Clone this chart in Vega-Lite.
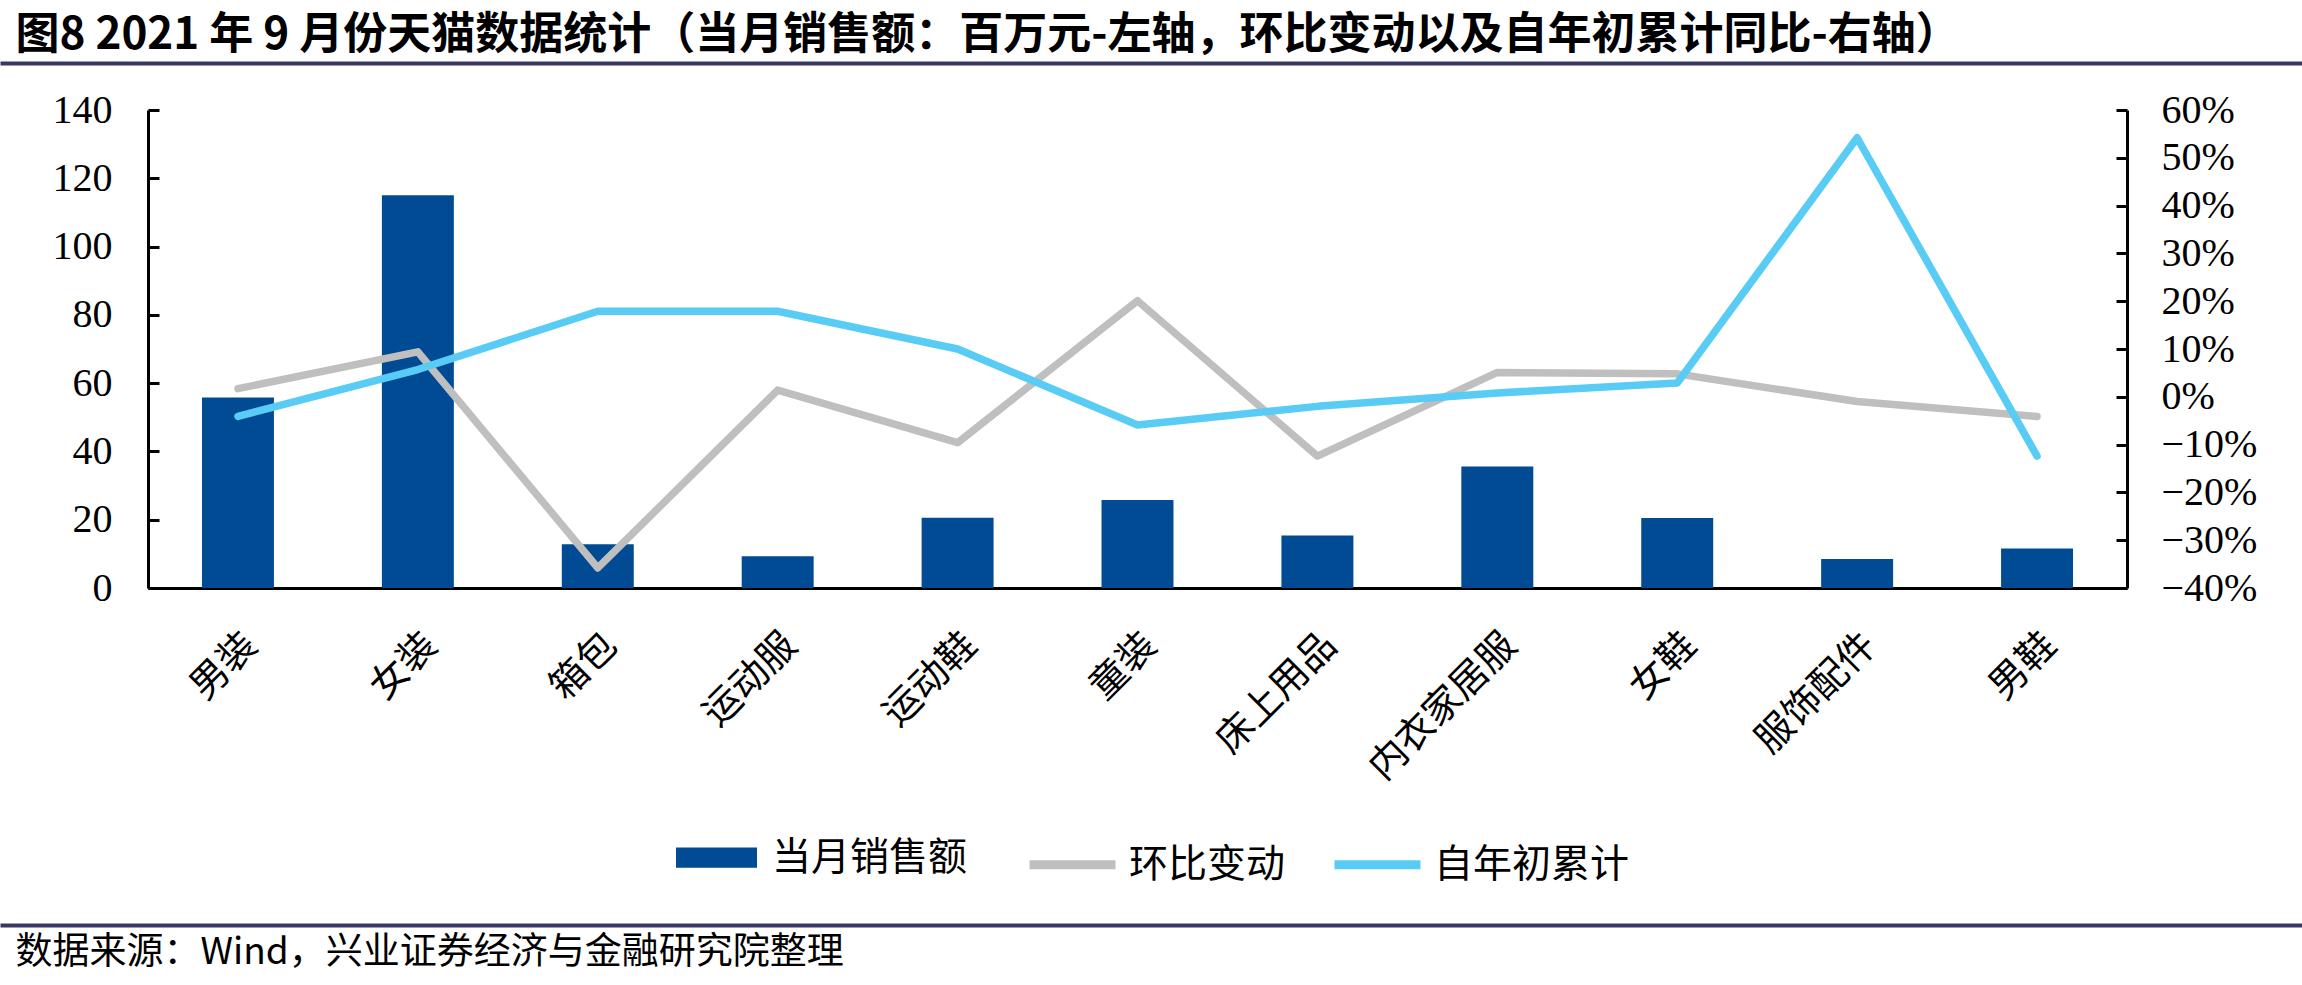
{
  "$schema": "https://vega.github.io/schema/vega-lite/v6.json",
  "width": 1979,
  "height": 478,
  "autosize": {"type": "none"},
  "padding": {"left": 148, "top": 110, "right": 175, "bottom": 397},
  "background": "white",
  "config": {"view": {"stroke": null}},
  "datasets": {
    "bars": [
      {"cat": "男装", "sales": 55.8},
      {"cat": "女装", "sales": 115},
      {"cat": "箱包", "sales": 12.8},
      {"cat": "运动服", "sales": 9.3},
      {"cat": "运动鞋", "sales": 20.6},
      {"cat": "童装", "sales": 25.8},
      {"cat": "床上用品", "sales": 15.4},
      {"cat": "内衣家居服", "sales": 35.6},
      {"cat": "女鞋", "sales": 20.5},
      {"cat": "服饰配件", "sales": 8.5},
      {"cat": "男鞋", "sales": 11.6}
    ],
    "lines": [
      {"cat": "男装", "series": "环比变动", "pct": 0.017},
      {"cat": "女装", "series": "环比变动", "pct": 0.094},
      {"cat": "箱包", "series": "环比变动", "pct": -0.358},
      {"cat": "运动服", "series": "环比变动", "pct": 0.014},
      {"cat": "运动鞋", "series": "环比变动", "pct": -0.096},
      {"cat": "童装", "series": "环比变动", "pct": 0.201},
      {"cat": "床上用品", "series": "环比变动", "pct": -0.124},
      {"cat": "内衣家居服", "series": "环比变动", "pct": 0.051},
      {"cat": "女鞋", "series": "环比变动", "pct": 0.048},
      {"cat": "服饰配件", "series": "环比变动", "pct": -0.010},
      {"cat": "男鞋", "series": "环比变动", "pct": -0.041},
      {"cat": "男装", "series": "自年初累计", "pct": -0.041},
      {"cat": "女装", "series": "自年初累计", "pct": 0.057},
      {"cat": "箱包", "series": "自年初累计", "pct": 0.179},
      {"cat": "运动服", "series": "自年初累计", "pct": 0.179},
      {"cat": "运动鞋", "series": "自年初累计", "pct": 0.100},
      {"cat": "童装", "series": "自年初累计", "pct": -0.059},
      {"cat": "床上用品", "series": "自年初累计", "pct": -0.020},
      {"cat": "内衣家居服", "series": "自年初累计", "pct": 0.008},
      {"cat": "女鞋", "series": "自年初累计", "pct": 0.029},
      {"cat": "服饰配件", "series": "自年初累计", "pct": 0.542},
      {"cat": "男鞋", "series": "自年初累计", "pct": -0.124}
    ]
  },
  "layer": [
    {
      "data": {"name": "bars"},
      "mark": {"type": "bar"},
      "encoding": {
        "x": {
          "field": "cat", "type": "nominal", "sort": null,
          "scale": {"paddingInner": 0.6, "paddingOuter": 0.3},
          "axis": {
            "orient": "bottom", "title": null, "ticks": false,
            "domainColor": "black", "domainWidth": 3,
            "labelAngle": -45, "labelFont": "Noto Sans CJK SC", "labelFontSize": 38,
            "labelColor": "black", "labelPadding": 38, "labelLimit": 0
          }
        },
        "y": {
          "field": "sales", "type": "quantitative",
          "scale": {"domain": [0, 140], "nice": false},
          "axis": {
            "orient": "left", "title": null, "grid": false,
            "values": [0, 20, 40, 60, 80, 100, 120, 140],
            "domainColor": "black", "domainWidth": 3,
            "tickColor": "black", "tickWidth": 3, "tickSize": -11,
            "labelFont": "Liberation Serif", "labelFontSize": 40, "labelColor": "black",
            "labelPadding": 47
          }
        },
        "fill": {
          "datum": "当月销售额",
          "scale": {"range": ["#004B93"]},
          "legend": {
            "orient": "none", "legendX": 528, "legendY": 707, "title": null, "padding": 0,
            "symbolType": "M-1,-0.25H1V0.25H-1Z", "symbolSize": 6561, "symbolStrokeWidth": 0,
            "labelFont": "Noto Sans CJK SC", "labelFontSize": 39, "labelColor": "black",
            "labelOffset": 15, "labelLimit": 0
          }
        }
      }
    },
    {
      "data": {"name": "lines"},
      "mark": {"type": "line", "strokeWidth": 7.5, "strokeCap": "round", "strokeJoin": "round"},
      "encoding": {
        "x": {"field": "cat", "type": "nominal", "sort": null, "scale": {"type": "point", "padding": 0.5}, "axis": null},
        "y": {
          "field": "pct", "type": "quantitative",
          "scale": {"domain": [-0.4, 0.6], "nice": false},
          "axis": {
            "orient": "right", "title": null, "grid": false, "format": ".0%",
            "values": [-0.4, -0.3, -0.2, -0.1, 0, 0.1, 0.2, 0.3, 0.4, 0.5, 0.6],
            "domainColor": "black", "domainWidth": 3,
            "tickColor": "black", "tickWidth": 3, "tickSize": -11,
            "labelFont": "Liberation Serif", "labelFontSize": 40, "labelColor": "black",
            "labelPadding": 45
          }
        },
        "stroke": {
          "field": "series", "type": "nominal",
          "scale": {"domain": ["环比变动", "自年初累计"], "range": ["#BFBFBF", "#59CCF5"]},
          "legend": {
            "orient": "none", "direction": "horizontal", "legendX": 877, "legendY": 707,
            "title": null, "padding": 0,
            "symbolType": "M-1,0H1", "symbolSize": 7396, "symbolStrokeWidth": 9,
            "labelFont": "Noto Sans CJK SC", "labelFontSize": 39, "labelColor": "black",
            "labelOffset": 9, "labelLimit": 0, "columnPadding": 30
          }
        },
        "order": {"value": null}
      }
    },
    {
      "data": {"values": []},
      "mark": {"type": "rule", "opacity": 0},
      "encoding": {
        "x": {
          "field": "d", "type": "quantitative",
          "scale": {"domain": [0, 1], "range": [-148, 2154]},
          "axis": {
            "orient": "top", "offset": 47, "domainColor": "#383864", "domainWidth": 4,
            "ticks": false, "labels": false, "grid": false,
            "title": "图8 2021 年 9 月份天猫数据统计（当月销售额：百万元-左轴，环比变动以及自年初累计同比-右轴）",
            "titleX": -133, "titleY": -28, "titleAlign": "left", "titleBaseline": "middle",
            "titleFont": "Noto Sans CJK SC", "titleFontSize": 44, "titleFontWeight": "bold",
            "titleColor": "black", "titleLimit": 0
          }
        }
      }
    },
    {
      "data": {"values": []},
      "mark": {"type": "rule", "opacity": 0},
      "encoding": {
        "x": {
          "field": "d", "type": "quantitative",
          "scale": {"domain": [0, 1], "range": [-148, 2154]},
          "axis": {
            "orient": "bottom", "offset": 337, "domainColor": "#383864", "domainWidth": 4,
            "ticks": false, "labels": false, "grid": false,
            "title": "数据来源：Wind，兴业证券经济与金融研究院整理",
            "titleX": -133, "titleY": 27, "titleAlign": "left", "titleBaseline": "middle",
            "titleFont": "Noto Sans CJK SC", "titleFontSize": 37, "titleFontWeight": "normal",
            "titleColor": "black", "titleLimit": 0
          }
        }
      }
    }
  ],
  "resolve": {
    "scale": {"x": "independent", "y": "independent"},
    "axis": {"x": "independent", "y": "independent"}
  }
}
